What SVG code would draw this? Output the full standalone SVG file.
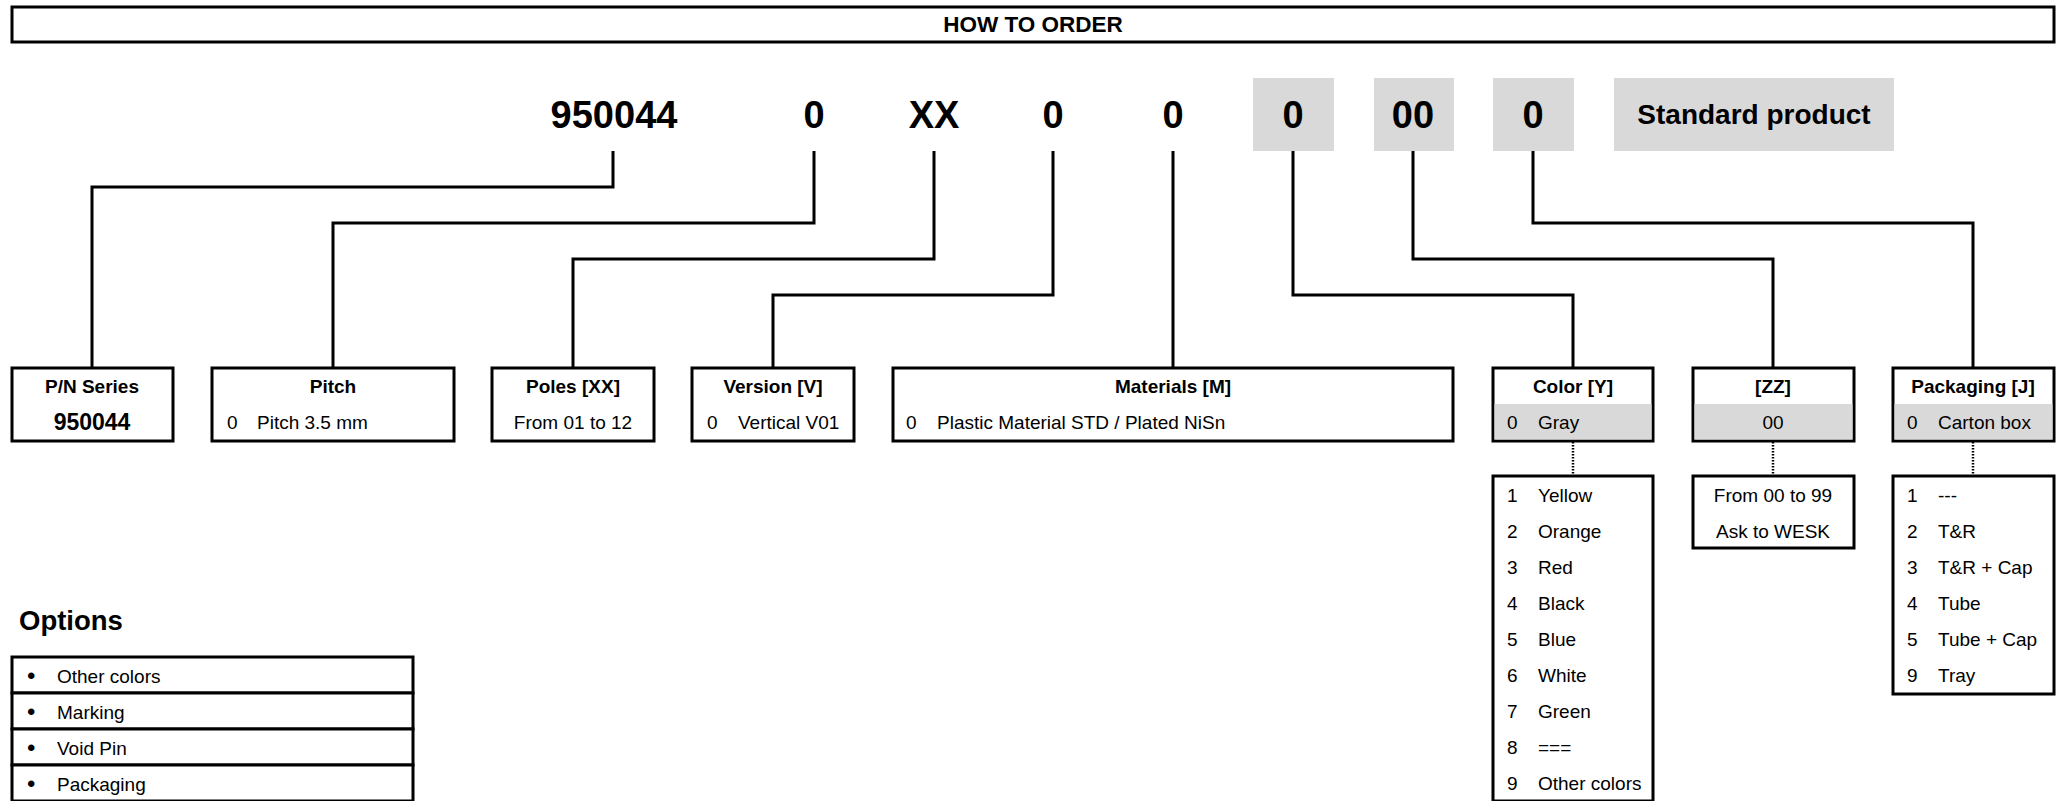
<svg xmlns="http://www.w3.org/2000/svg" width="2062" height="801" viewBox="0 0 2062 801">
<style>
text{font-family:"Liberation Sans",Arial,sans-serif;fill:#000}
.b{font-weight:bold}
.code{font-weight:bold;font-size:38px;text-anchor:middle}
.hd{font-weight:bold;font-size:19px;text-anchor:middle}
.v{font-size:19px}
.c{text-anchor:middle}
.bul{font-size:24px}
.box{fill:#fff;stroke:#000;stroke-width:3}
.gbox{fill:#d9d9d9;stroke:none}
.ln{fill:none;stroke:#000;stroke-width:3}
.dot{fill:none;stroke:#000;stroke-width:2.5;stroke-dasharray:1.5 1.5}
</style>
<rect width="2062" height="801" fill="#fff"/>
<g id="title">
<rect x="12" y="7" width="2042" height="35" class="box"/>
<text x="1033" y="32" class="b c" style="font-size:22.5px">HOW TO ORDER</text>
</g>
<g id="code">
<rect x="1253" y="78" width="81" height="73" class="gbox"/>
<rect x="1374" y="78" width="80" height="73" class="gbox"/>
<rect x="1493" y="78" width="81" height="73" class="gbox"/>
<rect x="1614" y="78" width="280" height="73" class="gbox"/>
<text x="614" y="128" class="code">950044</text>
<text x="814" y="128" class="code">0</text>
<text x="934" y="128" class="code">XX</text>
<text x="1053" y="128" class="code">0</text>
<text x="1173" y="128" class="code">0</text>
<text x="1293" y="128" class="code">0</text>
<text x="1413" y="128" class="code">00</text>
<text x="1533" y="128" class="code">0</text>
<text x="1754" y="124" class="b c" style="font-size:28px">Standard product</text>
</g>
<g id="connectors">
<polyline class="ln" points="613,151 613,187 92,187 92,368"/>
<polyline class="ln" points="814,151 814,223 333,223 333,368"/>
<polyline class="ln" points="934,151 934,259 573,259 573,368"/>
<polyline class="ln" points="1053,151 1053,295 773,295 773,368"/>
<polyline class="ln" points="1173,151 1173,368"/>
<polyline class="ln" points="1293,151 1293,295 1573,295 1573,368"/>
<polyline class="ln" points="1413,151 1413,259 1773,259 1773,368"/>
<polyline class="ln" points="1533,151 1533,223 1973,223 1973,368"/>
<line class="dot" x1="1573" y1="442" x2="1573" y2="475"/>
<line class="dot" x1="1773" y1="442" x2="1773" y2="475"/>
<line class="dot" x1="1973" y1="442" x2="1973" y2="475"/>
</g>
<g id="pn-series">
<rect x="12" y="368" width="161" height="73" class="box"/>
<text x="92" y="393" class="hd">P/N Series</text>
<text x="92" y="430" class="b c" style="font-size:23px">950044</text>
</g>
<g id="pitch">
<rect x="212" y="368" width="242" height="73" class="box"/>
<text x="333" y="393" class="hd">Pitch</text>
<text x="227" y="429" class="v">0</text>
<text x="257" y="429" class="v">Pitch 3.5 mm</text>
</g>
<g id="poles">
<rect x="492" y="368" width="162" height="73" class="box"/>
<text x="573" y="393" class="hd">Poles [XX]</text>
<text x="573" y="429" class="v c">From 01 to 12</text>
</g>
<g id="version">
<rect x="692" y="368" width="162" height="73" class="box"/>
<text x="773" y="393" class="hd">Version [V]</text>
<text x="707" y="429" class="v">0</text>
<text x="738" y="429" class="v">Vertical V01</text>
</g>
<g id="materials">
<rect x="893" y="368" width="560" height="73" class="box"/>
<text x="1173" y="393" class="hd">Materials [M]</text>
<text x="906" y="429" class="v">0</text>
<text x="937" y="429" class="v">Plastic Material STD / Plated NiSn</text>
</g>
<g id="color">
<rect x="1493" y="368" width="160" height="73" class="box"/>
<rect x="1494.5" y="404" width="157" height="35.5" class="gbox"/>
<text x="1573" y="393" class="hd">Color [Y]</text>
<text x="1507" y="429" class="v">0</text>
<text x="1538" y="429" class="v">Gray</text>
</g>
<g id="zz">
<rect x="1693" y="368" width="161" height="73" class="box"/>
<rect x="1694.5" y="404" width="158" height="35.5" class="gbox"/>
<text x="1773" y="393" class="hd">[ZZ]</text>
<text x="1773" y="429" class="v c">00</text>
</g>
<g id="packaging">
<rect x="1893" y="368" width="161" height="73" class="box"/>
<rect x="1894.5" y="404" width="158" height="35.5" class="gbox"/>
<text x="1973" y="393" class="hd">Packaging [J]</text>
<text x="1907" y="429" class="v">0</text>
<text x="1938" y="429" class="v">Carton box</text>
</g>
<g id="color-list">
<rect x="1493" y="476" width="160" height="325" class="box"/>
<g class="v">
<text x="1507" y="502">1</text><text x="1538" y="502">Yellow</text>
<text x="1507" y="538">2</text><text x="1538" y="538">Orange</text>
<text x="1507" y="574">3</text><text x="1538" y="574">Red</text>
<text x="1507" y="610">4</text><text x="1538" y="610">Black</text>
<text x="1507" y="646">5</text><text x="1538" y="646">Blue</text>
<text x="1507" y="682">6</text><text x="1538" y="682">White</text>
<text x="1507" y="718">7</text><text x="1538" y="718">Green</text>
<text x="1507" y="754">8</text><text x="1538" y="754">===</text>
<text x="1507" y="790">9</text><text x="1538" y="790">Other colors</text>
</g>
</g>
<g id="zz-list">
<rect x="1693" y="476" width="161" height="72" class="box"/>
<text x="1773" y="502" class="v c">From 00 to 99</text>
<text x="1773" y="538" class="v c">Ask to WESK</text>
</g>
<g id="packaging-list">
<rect x="1893" y="476" width="161" height="218" class="box"/>
<g class="v">
<text x="1907" y="502">1</text><text x="1938" y="502">---</text>
<text x="1907" y="538">2</text><text x="1938" y="538">T&amp;R</text>
<text x="1907" y="574">3</text><text x="1938" y="574">T&amp;R + Cap</text>
<text x="1907" y="610">4</text><text x="1938" y="610">Tube</text>
<text x="1907" y="646">5</text><text x="1938" y="646">Tube + Cap</text>
<text x="1907" y="682">9</text><text x="1938" y="682">Tray</text>
</g>
</g>
<g id="options">
<text x="19" y="630" class="b" style="font-size:27.5px">Options</text>
<rect x="12" y="657" width="401" height="36" class="box"/>
<rect x="12" y="693" width="401" height="36" class="box"/>
<rect x="12" y="729" width="401" height="36" class="box"/>
<rect x="12" y="765" width="401" height="36" class="box"/>
<g class="v">
<text x="27" y="684" class="bul">•</text><text x="57" y="683">Other colors</text>
<text x="27" y="720" class="bul">•</text><text x="57" y="719">Marking</text>
<text x="27" y="756" class="bul">•</text><text x="57" y="755">Void Pin</text>
<text x="27" y="792" class="bul">•</text><text x="57" y="791">Packaging</text>
</g>
</g>
</svg>
